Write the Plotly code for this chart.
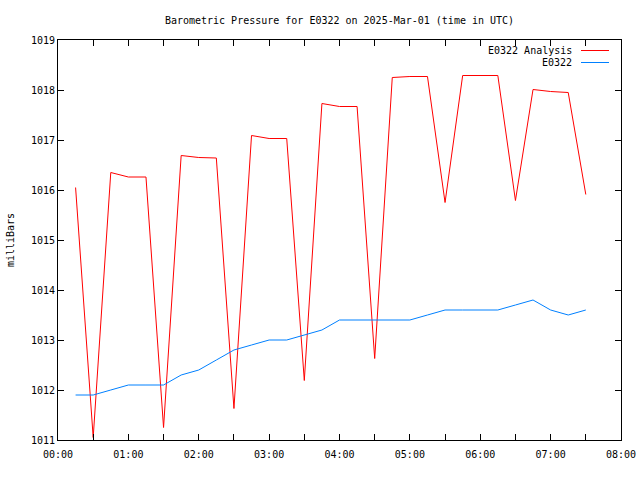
import plotly.graph_objects as go

times = ["00:15", "00:30", "00:45", "01:00", "01:15", "01:30", "01:45", "02:00",
         "02:15", "02:30", "02:45", "03:00", "03:15", "03:30", "03:45", "04:00",
         "04:15", "04:30", "04:45", "05:00", "05:15", "05:30", "05:45", "06:00",
         "06:15", "06:30", "06:45", "07:00", "07:15", "07:30"]
analysis = [1016.05, 1011.05, 1016.35, 1016.26, 1016.26, 1011.25, 1016.69, 1016.65,
            1016.64, 1011.63, 1017.09, 1017.03, 1017.03, 1012.19, 1017.73, 1017.67,
            1017.67, 1012.63, 1018.25, 1018.27, 1018.27, 1015.75, 1018.29, 1018.29,
            1018.29, 1015.79, 1018.01, 1017.97, 1017.95, 1015.91]
observed = [1011.9, 1011.9, 1012.0, 1012.1, 1012.1, 1012.1, 1012.3, 1012.4,
            1012.6, 1012.8, 1012.9, 1013.0, 1013.0, 1013.1, 1013.2, 1013.4,
            1013.4, 1013.4, 1013.4, 1013.4, 1013.5, 1013.6, 1013.6, 1013.6,
            1013.6, 1013.7, 1013.8, 1013.6, 1013.5, 1013.6]
x_tick_labels = ["00:00", "01:00", "02:00", "03:00", "04:00", "05:00", "06:00", "07:00", "08:00"]
y_ticks = [1011, 1012, 1013, 1014, 1015, 1016, 1017, 1018, 1019]

DAY = "2025-03-01 "
xs = [DAY + t for t in times]
x_tickvals = [DAY + t for t in x_tick_labels]

RED = "#ff0000"
BLUE = "#0080ff"
FONT = "DejaVu Sans Mono"

fig = go.Figure()
fig.add_trace(go.Scatter(x=xs, y=analysis, mode="lines", name="E0322 Analysis",
                         line=dict(color=RED, width=1), showlegend=False))
fig.add_trace(go.Scatter(x=xs, y=observed, mode="lines", name="E0322",
                         line=dict(color=BLUE, width=1), showlegend=False))

fig.update_layout(
    width=640, height=480,
    margin=dict(l=58, r=19, t=40, b=40, autoexpand=False),
    paper_bgcolor="white", plot_bgcolor="white",
    font=dict(family=FONT, size=10, color="black"),
    title=dict(text="Barometric Pressure for E0322 on 2025-Mar-01 (time in UTC)",
               xref="paper", x=0.5, xanchor="center", y=1 - 20 / 480, yanchor="middle",
               font=dict(family=FONT, size=10, color="black")),
    xaxis=dict(type="date", range=[DAY + "00:00", DAY + "08:00"], automargin=False,
               tickvals=x_tickvals, ticktext=x_tick_labels,
               ticks="inside", ticklen=6, tickcolor="black", tickwidth=1,
               ticklabelstandoff=5,
               minor=dict(dtick=1800000, ticks="inside", ticklen=6, tickcolor="black", showgrid=False),
               showline=True, linecolor="black", linewidth=1, mirror="allticks",
               showgrid=False, zeroline=False,
               tickfont=dict(family=FONT, size=10)),
    yaxis=dict(range=[1011, 1019], tickvals=y_ticks, ticktext=[str(v) for v in y_ticks],
               automargin=False,
               ticks="inside", ticklen=6, tickcolor="black", tickwidth=1,
               showline=True, linecolor="black", linewidth=1, mirror="allticks",
               showgrid=False, zeroline=False,
               title=dict(text="milliBars", standoff=14, font=dict(family=FONT, size=10)),
               tickfont=dict(family=FONT, size=10)),
)

# Manual legend (text left, line sample right), gnuplot-style
legend_items = [("E0322 Analysis", RED), ("E0322", BLUE)]
plot_left, plot_right, plot_top, plot_bottom = 58, 621, 40, 440
for i, (name, color) in enumerate(legend_items):
    ypix = 50.5 + i * 12
    yp = (plot_bottom - ypix) / (plot_bottom - plot_top)
    xtxt = (574 - plot_left) / (plot_right - plot_left)
    fig.add_annotation(x=xtxt, y=yp, xref="paper", yref="paper", text=name,
                       showarrow=False, xanchor="right", yanchor="middle",
                       font=dict(family=FONT, size=10, color="black"))
    fig.add_shape(type="line", xref="paper", yref="paper",
                  x0=(581 - plot_left) / (plot_right - plot_left),
                  x1=(609 - plot_left) / (plot_right - plot_left),
                  y0=yp, y1=yp, line=dict(color=color, width=1))

fig.write_html("out.html", config={"displayModeBar": False},
               post_script="document.body.style.margin='0';document.body.style.overflow='hidden';")
